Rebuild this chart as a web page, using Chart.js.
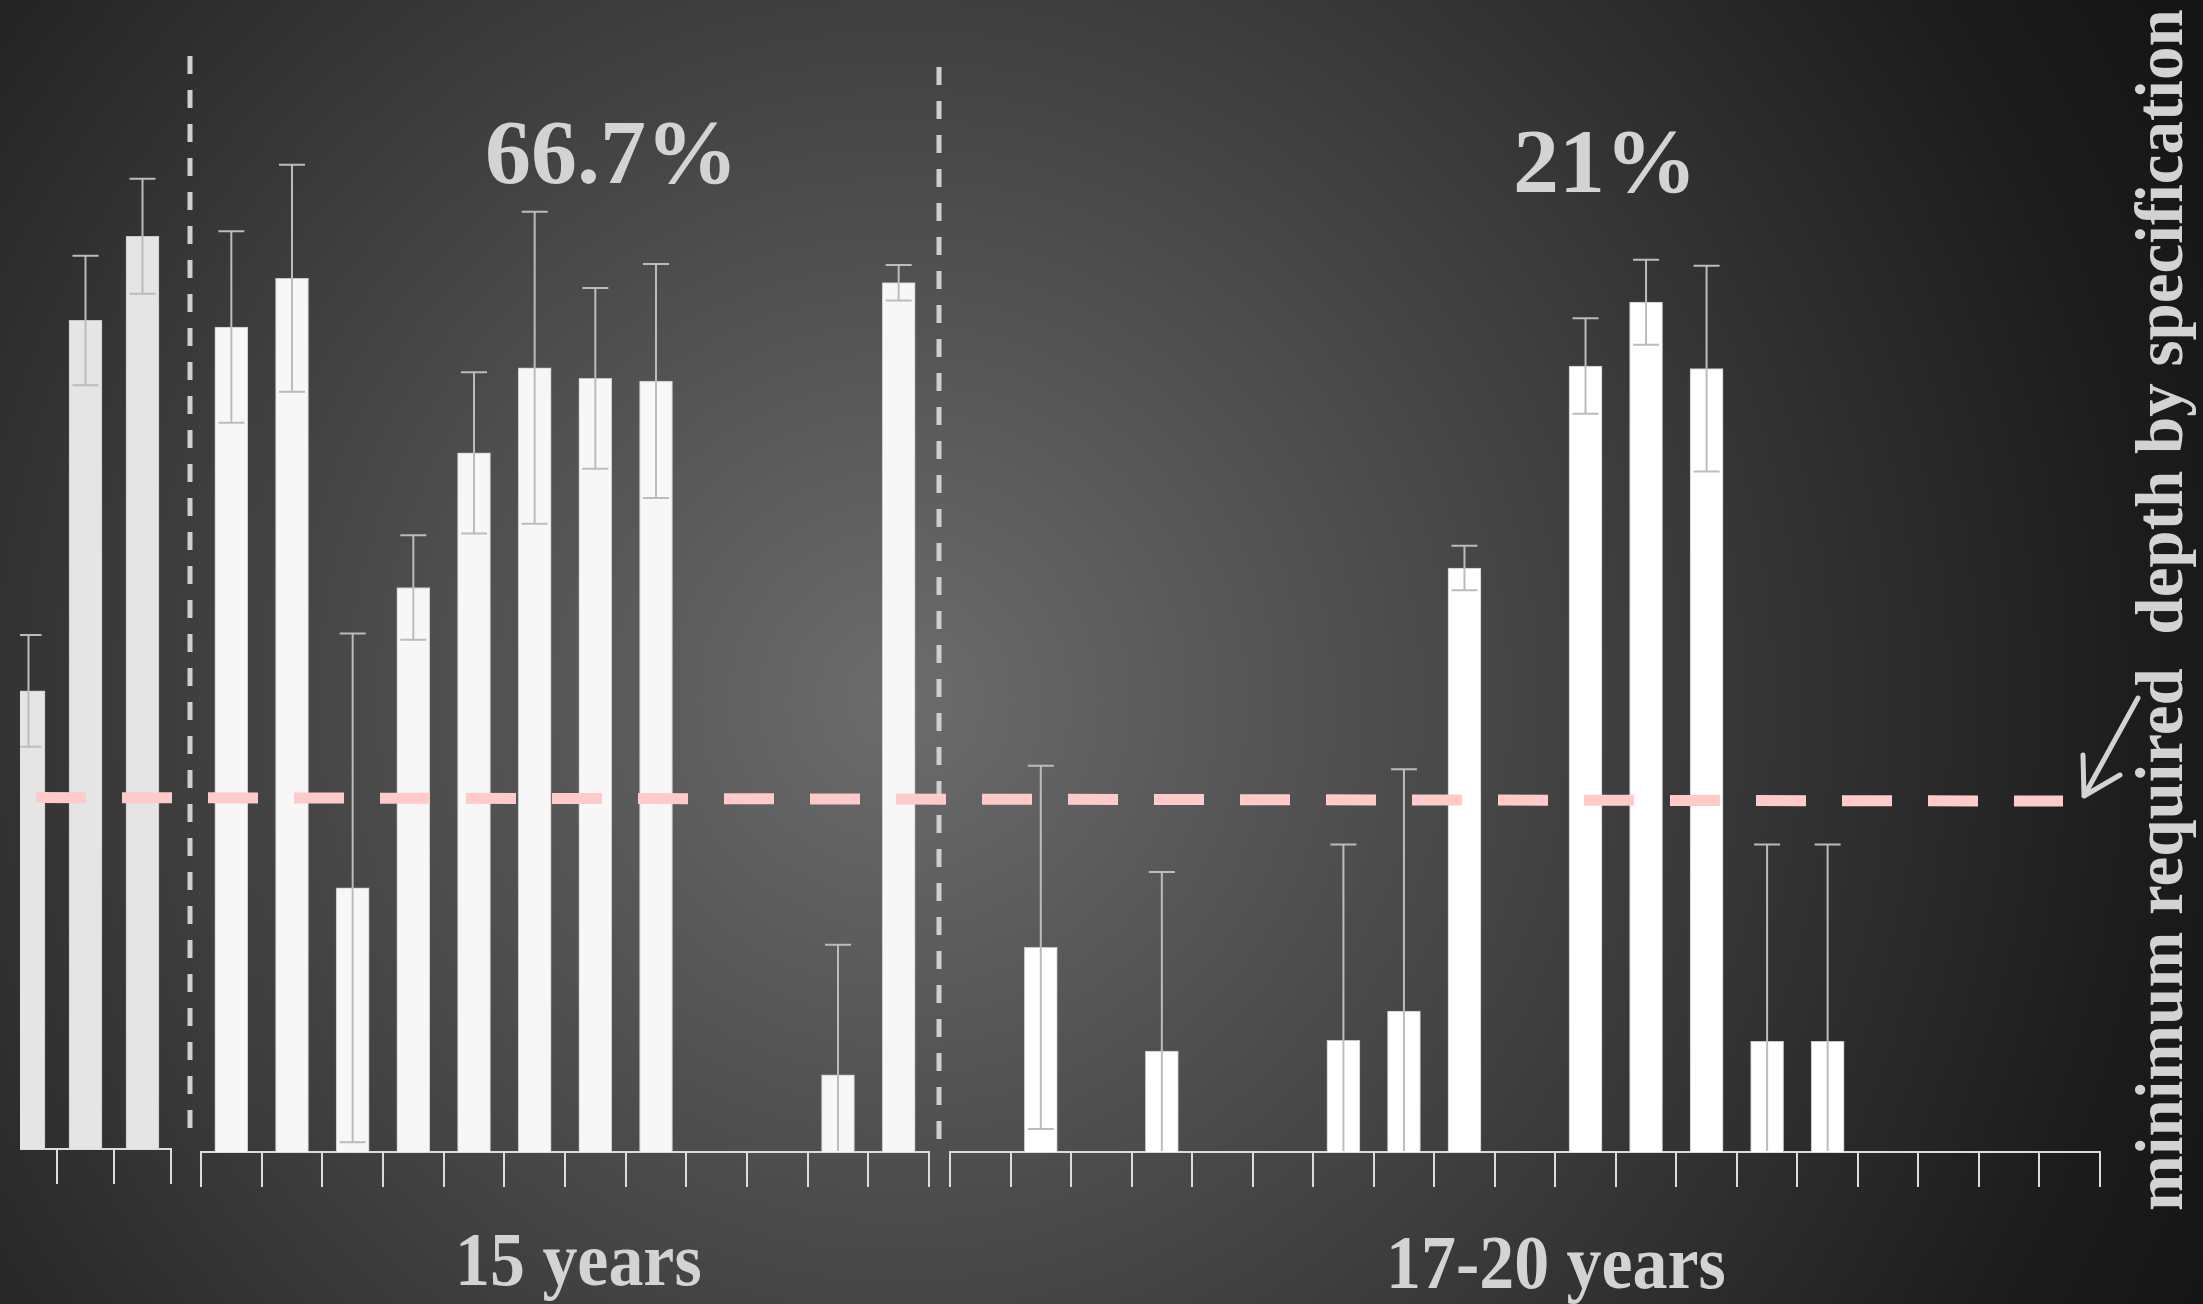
<!DOCTYPE html>
<html>
<head>
<meta charset="utf-8">
<title>Measured depth by age group</title>
<script src="https://cdn.jsdelivr.net/npm/chart.js@4.4.1/dist/chart.umd.min.js"></script>
<style>
  html, body { margin: 0; padding: 0; }
  body {
    width: 2203px; height: 1304px; overflow: hidden; position: relative;
    background: radial-gradient(circle at 900px 700px, #6c6c6c 0px, #1c1c1c 1250px, #151515 1450px);
    font-family: "Liberation Serif", "Times New Roman", serif;
  }
  .box { position: absolute; }
  .clip { position: absolute; overflow: hidden; }
  .txt { position: absolute; white-space: pre; font-weight: bold; color: #d3d3d3; line-height: 1; }
</style>
</head>
<body>

<div class="clip" style="left:20px; top:0; width:175px; height:1200px;">
  <div class="box" style="left:-24px; top:-3px; width:179px; height:1187px;"><canvas id="chartEarly"></canvas></div>
</div>
<div class="box" style="left:197px; top:0; width:736px; height:1187px;"><canvas id="chartMid"></canvas></div>
<div class="box" style="left:946px; top:0; width:1158px; height:1187px;"><canvas id="chartLate"></canvas></div>
<div class="box" style="left:0; top:0; width:2203px; height:1304px;"><canvas id="chartSpec"></canvas></div>

<div class="txt" id="shareMid" style="left:485px; top:106px; font-size:92px;"></div>
<div class="txt" id="shareLate" style="left:1513px; top:115px; font-size:92px;"></div>
<div class="txt" id="groupMid" style="left:455px; top:1221px; font-size:76px; transform:scaleX(0.92); transform-origin:0 0;"></div>
<div class="txt" id="groupLate" style="left:1386px; top:1224px; font-size:76px; transform:scaleX(0.92); transform-origin:0 0;"></div>
<div class="txt" id="specNote" style="left:2126px; top:1211px; font-size:67px; transform:rotate(-90deg); transform-origin:0 0;"></div>

<script>
// ---- data -------------------------------------------------------------
const yMax = 130;

// reference group (partly cut off at the left)
const earlyIds   = ['E1', 'E2', 'E3'];
const earlyDepth = [51.7, 93.5, 103.0];
const earlyError = [6.3, 7.3, 6.5];

// 15 years
const midIds   = ['M1', 'M2', 'M3', 'M4', 'M5', 'M6', 'M7', 'M8', 'M9', 'M10', 'M11', 'M12'];
const midDepth = [93.1, 98.6, 29.8, 63.7, 78.9, 88.5, 87.3, 87.0, null, null, 8.7, 98.1];
const midError = [10.8, 12.8, 28.7, 5.9, 9.1, 17.6, 10.2, 13.2, null, null, 14.7, 2.0];

// 17-20 years
const lateIds   = ['L1', 'L2', 'L3', 'L4', 'L5', 'L6', 'L7', 'L8', 'L9', 'L10',
                   'L11', 'L12', 'L13', 'L14', 'L15', 'L16', 'L17', 'L18', 'L19'];
const lateDepth = [null, 23.1, null, 11.4, null, null, 12.6, 15.9, 65.9, null,
                   88.7, 95.9, 88.4, 12.5, 12.5, null, null, null, null];
const lateError = [null, 20.5, null, 20.2, null, null, 22.1, 27.3, 2.5, null,
                   5.4, 4.8, 11.6, 22.2, 22.2, null, null, null, null];

// specification line, value at its left and right end
const requiredDepth = [40.0, 39.6];

// texts
const shareLabels = ['66.7%', '21%'];
const groupLabels = ['15 years', '17-20 years'];
const specLabel   = 'minimum required  depth by specification';

// ---- error bars -------------------------------------------------------
const errorBars = {
  id: 'errorBars',
  afterDatasetsDraw(chart) {
    const { ctx, chartArea: a, scales: { y } } = chart;
    ctx.save();
    ctx.beginPath();
    ctx.rect(a.left - 30, a.top, a.right - a.left + 60, a.bottom - a.top - 1);
    ctx.clip();
    ctx.strokeStyle = '#bcbcbc';
    ctx.lineWidth = 2;
    chart.data.datasets.forEach((ds, di) => {
      const meta = chart.getDatasetMeta(di);
      meta.data.forEach((bar, i) => {
        const v = ds.data[i], e = ds.errors[i];
        if (v == null || e == null) return;
        const x = bar.x;
        const hi = y.getPixelForValue(v + e);
        const lo = y.getPixelForValue(v - e);
        const cap = 13;
        ctx.beginPath();
        ctx.moveTo(x, hi); ctx.lineTo(x, lo);
        ctx.moveTo(x - cap, hi); ctx.lineTo(x + cap, hi);
        ctx.moveTo(x - cap, lo); ctx.lineTo(x + cap, lo);
        ctx.stroke();
      });
    });
    ctx.restore();
  }
};

function barChart(id, labels, values, errors, fill) {
  return new Chart(document.getElementById(id), {
    type: 'bar',
    data: {
      labels: labels,
      datasets: [{
        data: values,
        errors: errors,
        backgroundColor: fill,
        borderColor: '#c6c6c6',
        borderWidth: 1,
        barThickness: 33
      }]
    },
    options: {
      responsive: true,
      maintainAspectRatio: false,
      animation: false,
      layout: { padding: { left: 4, right: 4, top: 0, bottom: 0 } },
      plugins: { legend: { display: false }, tooltip: { enabled: false } },
      scales: {
        x: {
          offset: true,
          ticks: { display: false },
          grid: { offset: true, drawOnChartArea: false, drawTicks: true, tickLength: 35, color: '#dcdcdc', lineWidth: 2 },
          border: { display: true, color: '#dcdcdc', width: 2 }
        },
        y: { display: false, min: 0, max: yMax }
      }
    },
    plugins: [errorBars]
  });
}

barChart('chartEarly', earlyIds, earlyDepth, earlyError, '#e5e5e5');
barChart('chartMid', midIds, midDepth, midError, '#f7f7f7');
barChart('chartLate', lateIds, lateDepth, lateError, '#ffffff');

// ---- group separators and pointer arrow -------------------------------
const decor = {
  id: 'decor',
  beforeDatasetsDraw(chart) {
    const ctx = chart.ctx;
    ctx.save();
    ctx.strokeStyle = '#cfcfcf';
    ctx.lineWidth = 5;
    ctx.setLineDash([18, 16]);
    [[190, 56, 1143], [939, 67, 1150]].forEach(([x, t, b]) => {
      ctx.beginPath(); ctx.moveTo(x, t); ctx.lineTo(x, b); ctx.stroke();
    });
    ctx.restore();
  },
  afterDraw(chart) {
    const ctx = chart.ctx;
    ctx.save();
    ctx.strokeStyle = '#d3d3d3';
    ctx.lineWidth = 5;
    ctx.lineCap = 'round';
    ctx.lineJoin = 'round';
    ctx.beginPath();
    ctx.moveTo(2138, 698); ctx.lineTo(2084, 796);
    ctx.moveTo(2083, 755); ctx.lineTo(2084, 796); ctx.lineTo(2120, 775);
    ctx.stroke();
    ctx.restore();
  }
};

new Chart(document.getElementById('chartSpec'), {
  type: 'line',
  data: {
    datasets: [{
      data: [{ x: 0, y: requiredDepth[0] }, { x: 1, y: requiredDepth[1] }],
      borderColor: '#ffcaca',
      borderWidth: 11,
      borderDash: [50, 36],
      borderCapStyle: 'butt',
      pointRadius: 0,
      clip: false
    }]
  },
  options: {
    responsive: true,
    maintainAspectRatio: false,
    animation: false,
    layout: { padding: { left: 36, right: 140, top: 0, bottom: 152 } },
    plugins: { legend: { display: false }, tooltip: { enabled: false } },
    scales: {
      x: { type: 'linear', display: false, min: 0, max: 1 },
      y: { display: false, min: 0, max: yMax }
    }
  },
  plugins: [decor]
});

// ---- texts ------------------------------------------------------------
document.getElementById('shareMid').textContent = shareLabels[0];
document.getElementById('shareLate').textContent = shareLabels[1];
document.getElementById('groupMid').textContent = groupLabels[0];
document.getElementById('groupLate').textContent = groupLabels[1];
document.getElementById('specNote').textContent = specLabel;
</script>
</body>
</html>
